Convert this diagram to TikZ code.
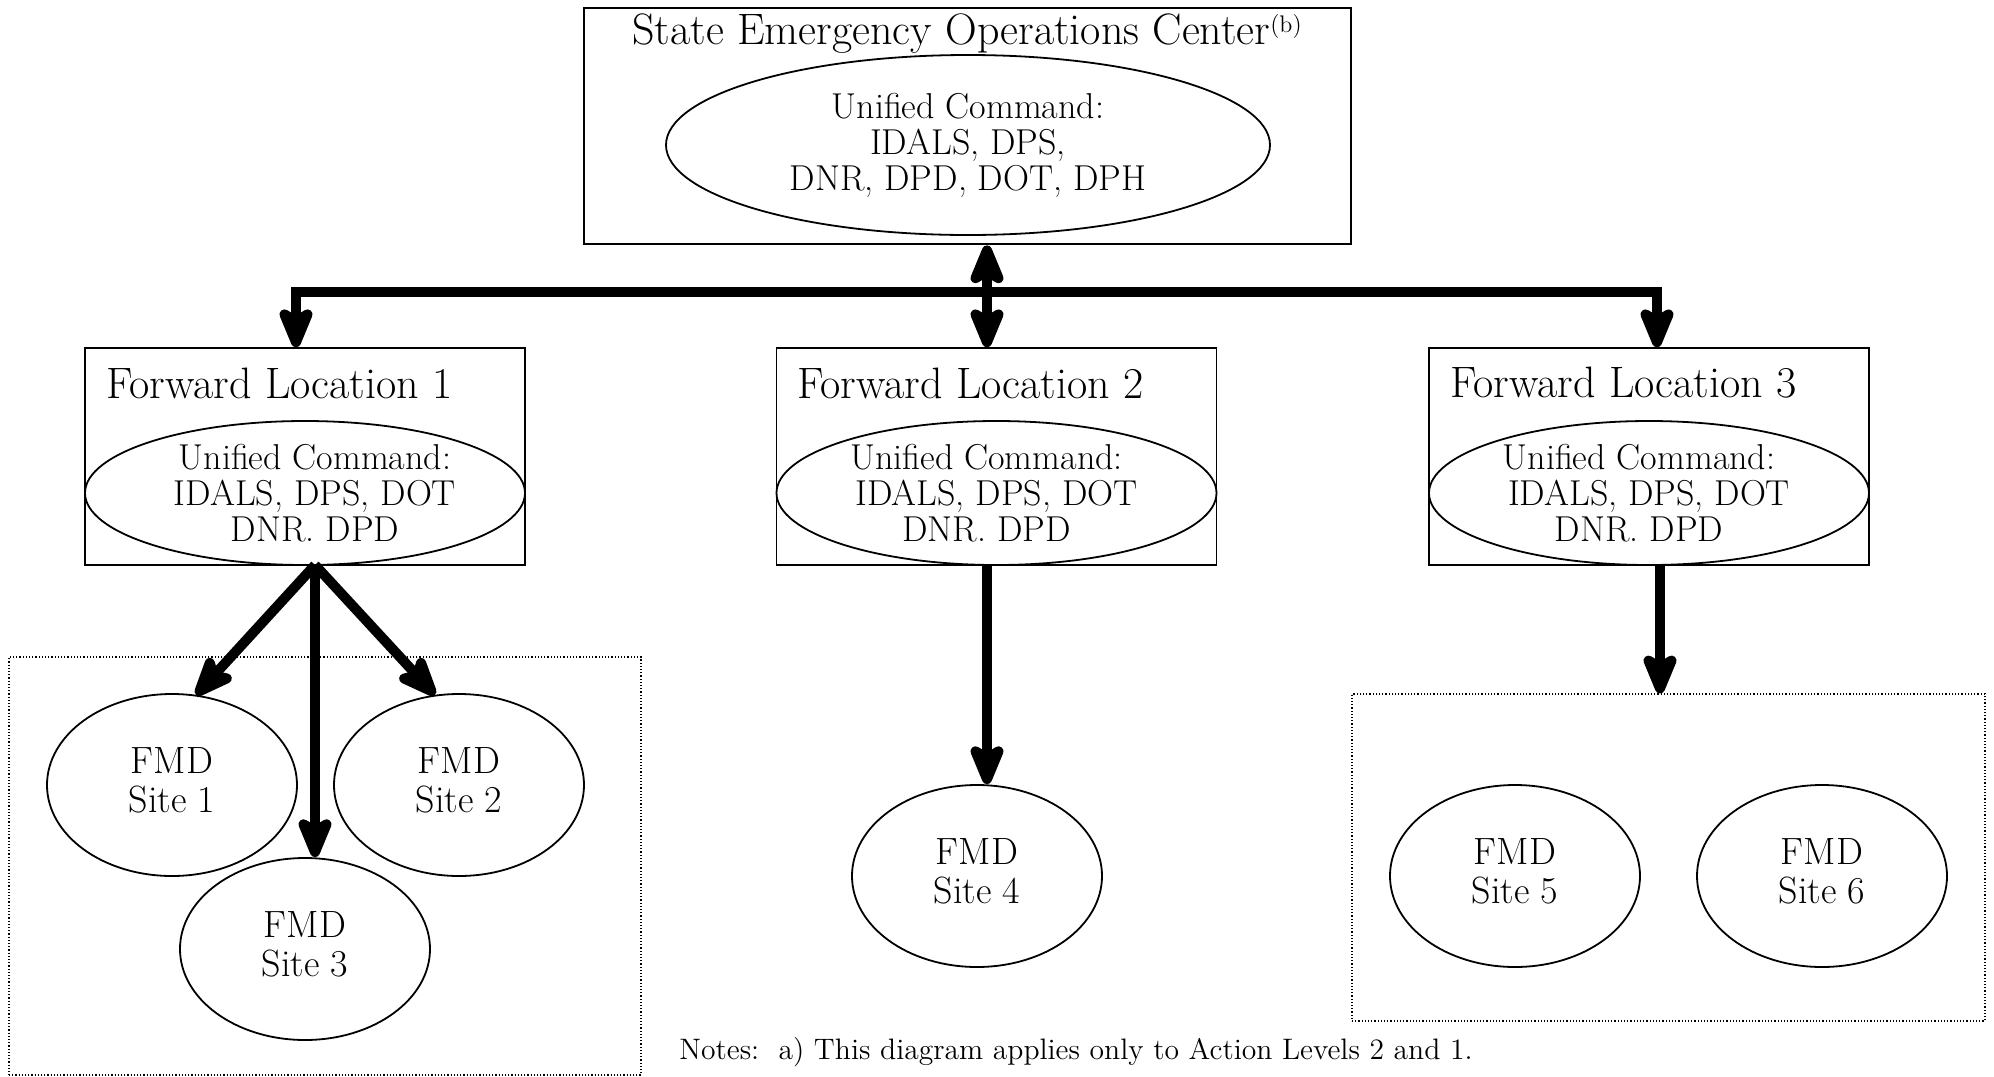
\documentclass[tikz,border=0pt]{standalone}
\usetikzlibrary{arrows.meta,shapes.geometric,calc}
\newcommand\sitelbl[2]{\raisebox{3.2pt}{\begin{tabular}{@{}c@{}}#1\\#2\end{tabular}}}
\begin{document}
\begin{tikzpicture}[x=0.5pt,y=-0.5pt,
  box/.style={draw, rectangle, line width=0.8pt, inner sep=0pt},
  ell/.style={draw, ellipse, line width=0.9pt, inner sep=0pt, align=center, font=\fontsize{18}{18}\selectfont},
  site/.style={ell, minimum width=125pt, minimum height=91pt, font=\fontsize{19}{19.5}\selectfont},
  ttl/.style={inner sep=0pt, font=\fontsize{22}{24}\selectfont},
  dotbox/.style={draw, rectangle, densely dotted, line width=0.6pt, inner sep=0pt},
  tip/.style={},
  bigarrow/.style={line width=5pt, -{Stealth[length=26pt,width=21pt,inset=6pt,round]}},
  bigboth/.style={line width=5pt, {Stealth[length=26pt,width=21pt,inset=6pt,round]}-{Stealth[length=26pt,width=21pt,inset=6pt,round]}}
]
\useasboundingbox (0,0) rectangle (1994,1077);

% State EOC
\node[box, line width=1.4pt, minimum width=383.5pt, minimum height=118pt] (seoc) at (967.5,126) {};
\node[ttl] (seoct) at (967,34) {State Emergency Operations Center{\fontsize{12}{12}\selectfont\raisebox{6pt}{(b)}}};
\node[ell, minimum width=302pt, minimum height=90pt] (seoce) at (968,145) {Unified Command:\\IDALS, DPS,\\DNR, DPD, DOT, DPH};

% Forward locations
\node[box, minimum width=220pt, minimum height=108.5pt] (fl1) at (305,456.5) {};
\node[box, minimum width=220pt, minimum height=108.5pt] (fl2) at (996.5,456.5) {};
\node[box, minimum width=220pt, minimum height=108.5pt] (fl3) at (1649,456.5) {};
\node[ttl, anchor=west] (fl1t) at (106,383) {Forward Location 1};
\node[ttl, anchor=west] (fl2t) at (797,383) {Forward Location 2};
\node[ttl, anchor=west] (fl3t) at (1450,383) {Forward Location 3};
\node[ell, minimum width=220pt, minimum height=72pt] (fl1e) at (305,493) {\hspace*{10pt}Unified Command:\\\hspace*{10pt}IDALS, DPS, DOT\\\hspace*{10pt}DNR. DPD};
\node[ell, minimum width=220pt, minimum height=72pt] (fl2e) at (996.5,493) {Unified Command:\hspace*{10pt}\\IDALS, DPS, DOT\hspace*{10pt}\\DNR. DPD\hspace*{10pt}};
\node[ell, minimum width=220pt, minimum height=72pt] (fl3e) at (1649,493) {Unified Command:\hspace*{10pt}\\IDALS, DPS, DOT\hspace*{10pt}\\DNR. DPD\hspace*{10pt}};

% Groups
\node[dotbox, minimum width=316pt, minimum height=209pt] (g1) at (325,866) {};
\node[dotbox, minimum width=316.5pt, minimum height=163.5pt] (g2) at (1668.5,857.5) {};

% Sites
\node[site] (s1) at (172,785) {\sitelbl{FMD}{Site 1}};
\node[site] (s2) at (459,785) {\sitelbl{FMD}{Site 2}};
\node[site] (s3) at (305,949) {\sitelbl{FMD}{Site 3}};
\node[site] (s4) at (977,876) {\sitelbl{FMD}{Site 4}};
\node[site] (s5) at (1515,876) {\sitelbl{FMD}{Site 5}};
\node[site] (s6) at (1822,876) {\sitelbl{FMD}{Site 6}};

% Connectors
\coordinate (jL) at (296,292);
\coordinate (jC) at (987,292);
\coordinate (jR) at (1657,292);
\draw[bigarrow] (jC) -| (jL |- fl1.north);
\draw[bigarrow] (jC) -| (jR |- fl3.north);
\draw[bigboth] (seoc.south -| jC) -- (fl2.north -| jC);

\coordinate (o1) at (315,565);
\draw[bigarrow] (o1) -- (s1.75);
\draw[bigarrow] (o1) -- (s2.105);
\draw[bigarrow] (o1) -- (o1 |- s3.north);

\draw[bigarrow] (fl2.south -| jC) -- (s4.north -| jC);

\coordinate (o3) at (1660,565);
\draw[bigarrow] (o3) -- (o3 |- g2.north);

% Notes
\node[anchor=west, inner sep=0pt, font=\fontsize{14.8}{16}\selectfont] (notes) at (679,1052) {Notes:\ \ a) This diagram applies only to Action Levels 2 and 1.};
\end{tikzpicture}
\end{document}
